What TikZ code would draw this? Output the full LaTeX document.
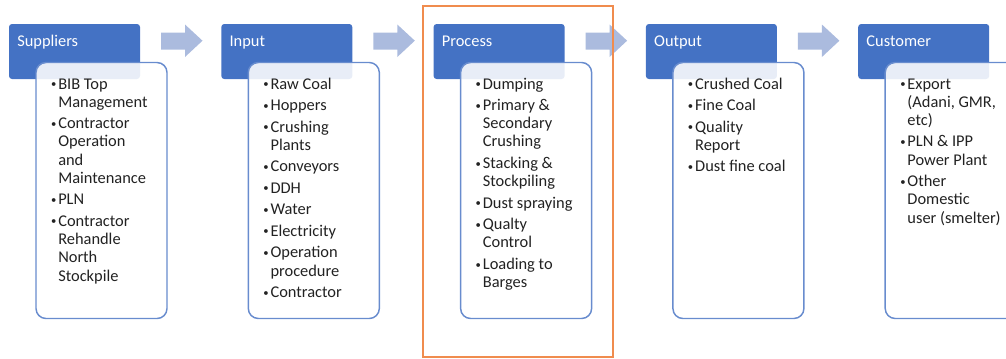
\documentclass[tikz,border=0pt]{standalone}
\usepackage{fontspec}
\setmainfont{Carlito}
\usetikzlibrary{calc}
\definecolor{hdrblue}{RGB}{68,114,196}
\definecolor{boxline}{RGB}{104,140,206}
\definecolor{arrowfill}{RGB}{171,187,222}
\definecolor{frameorange}{RGB}{240,140,78}
\definecolor{bodytext}{RGB}{34,34,34}
% small bullet column and gap between list items
\newcommand\bl{\makebox[6pt][l]{\hspace{0.6pt}\raisebox{1.1pt}{\fontsize{8}{8}\selectfont\textbullet}}}
\newcommand\ig{\\[2.5pt]}

\begin{document}
\begin{tikzpicture}[x=0.75pt,y=-0.75pt,
  header/.style={fill=hdrblue, rounded corners=2.25pt, minimum width=98.25pt,
    minimum height=41.25pt, anchor=north west, inner sep=0, outer sep=0},
  listbox/.style={draw=boxline, line width=1.1pt, fill=white, fill opacity=0.88,
    rounded corners=7.5pt, minimum width=98.25pt, minimum height=192pt,
    anchor=north west, inner sep=0, outer sep=0},
  headtext/.style={anchor=base west, inner sep=0, text=white,
    font=\fontsize{12.3}{14}\selectfont},
  listtext/.style={anchor=base west, inner sep=0, text=bodytext,
    font=\fontsize{12.3}{13.65}\selectfont},
  flow/.style={fill=arrowfill}]
\clip (0,0) rectangle (1006,358);
\useasboundingbox (0,0) rectangle (1006,358);

% header tabs and list boxes of the five stages
\foreach \k/\name in {0/sup,1/inp,2/pro,3/out,4/cus}{
  \pgfmathsetmacro\hx{9+212.3*\k}
  \node[header] (h\name) at (\hx,24) {};
  \node[listbox] (b\name) at (\hx+27,62.5) {};
}

% block arrows between stages
\foreach \k in {0,1,2,3}{
  \pgfmathsetmacro\ax{161+212.3*\k}
  \fill[flow] (\ax,32.5) -- (\ax+24,32.5) -- (\ax+24,24.5) -- (\ax+41.5,40.7)
    -- (\ax+24,57) -- (\ax+24,49.5) -- (\ax,49.5) -- cycle;
}

% stage titles
\node[headtext] (tsup) at ($(hsup.north west)+(8,22)$) {Suppliers};
\node[headtext] (tinp) at ($(hinp.north west)+(8,22)$) {Input};
\node[headtext] (tpro) at ($(hpro.north west)+(8,22)$) {Process};
\node[headtext] (tout) at ($(hout.north west)+(8,22)$) {Output};
\node[headtext] (tcus) at ($(hcus.north west)+(8,22)$) {Customer};

% stage contents
\node[listtext] (lsup) at ($(bsup.north west)+(14,26.5)$) {\begin{tabular}[t]{@{}l@{}l@{}}
\bl & BIB Top\\ & Management\ig
\bl & Contractor\\ & Operation\\ & and\\ & Maintenance\ig
\bl & PLN\ig
\bl & Contractor\\ & Rehandle\\ & North\\ & Stockpile
\end{tabular}};

\node[listtext] (linp) at ($(binp.north west)+(14,26.5)$) {\begin{tabular}[t]{@{}l@{}l@{}}
\bl & Raw Coal\ig
\bl & Hoppers\ig
\bl & Crushing\\ & Plants\ig
\bl & Conveyors\ig
\bl & DDH\ig
\bl & Water\ig
\bl & Electricity\ig
\bl & Operation\\ & procedure\ig
\bl & Contractor
\end{tabular}};

\node[listtext] (lpro) at ($(bpro.north west)+(14,26.5)$) {\begin{tabular}[t]{@{}l@{}l@{}}
\bl & Dumping\ig
\bl & Primary \&\\ & Secondary\\ & Crushing\ig
\bl & Stacking \&\\ & Stockpiling\ig
\bl & Dust spraying\ig
\bl & Qualty\\ & Control\ig
\bl & Loading to\\ & Barges
\end{tabular}};

\node[listtext] (lout) at ($(bout.north west)+(14,26.5)$) {\begin{tabular}[t]{@{}l@{}l@{}}
\bl & Crushed Coal\ig
\bl & Fine Coal\ig
\bl & Quality\\ & Report\ig
\bl & Dust fine coal
\end{tabular}};

\node[listtext] (lcus) at ($(bcus.north west)+(14,26.5)$) {\begin{tabular}[t]{@{}l@{}l@{}}
\bl & Export\\ & (Adani, GMR,\\ & etc)\ig
\bl & PLN \& IPP\\ & Power Plant\ig
\bl & Other\\ & Domestic\\ & user (smelter)
\end{tabular}};

% frame around the process stage
\draw[frameorange, line width=1pt] (423,6) rectangle (613,357);
\end{tikzpicture}
\end{document}
